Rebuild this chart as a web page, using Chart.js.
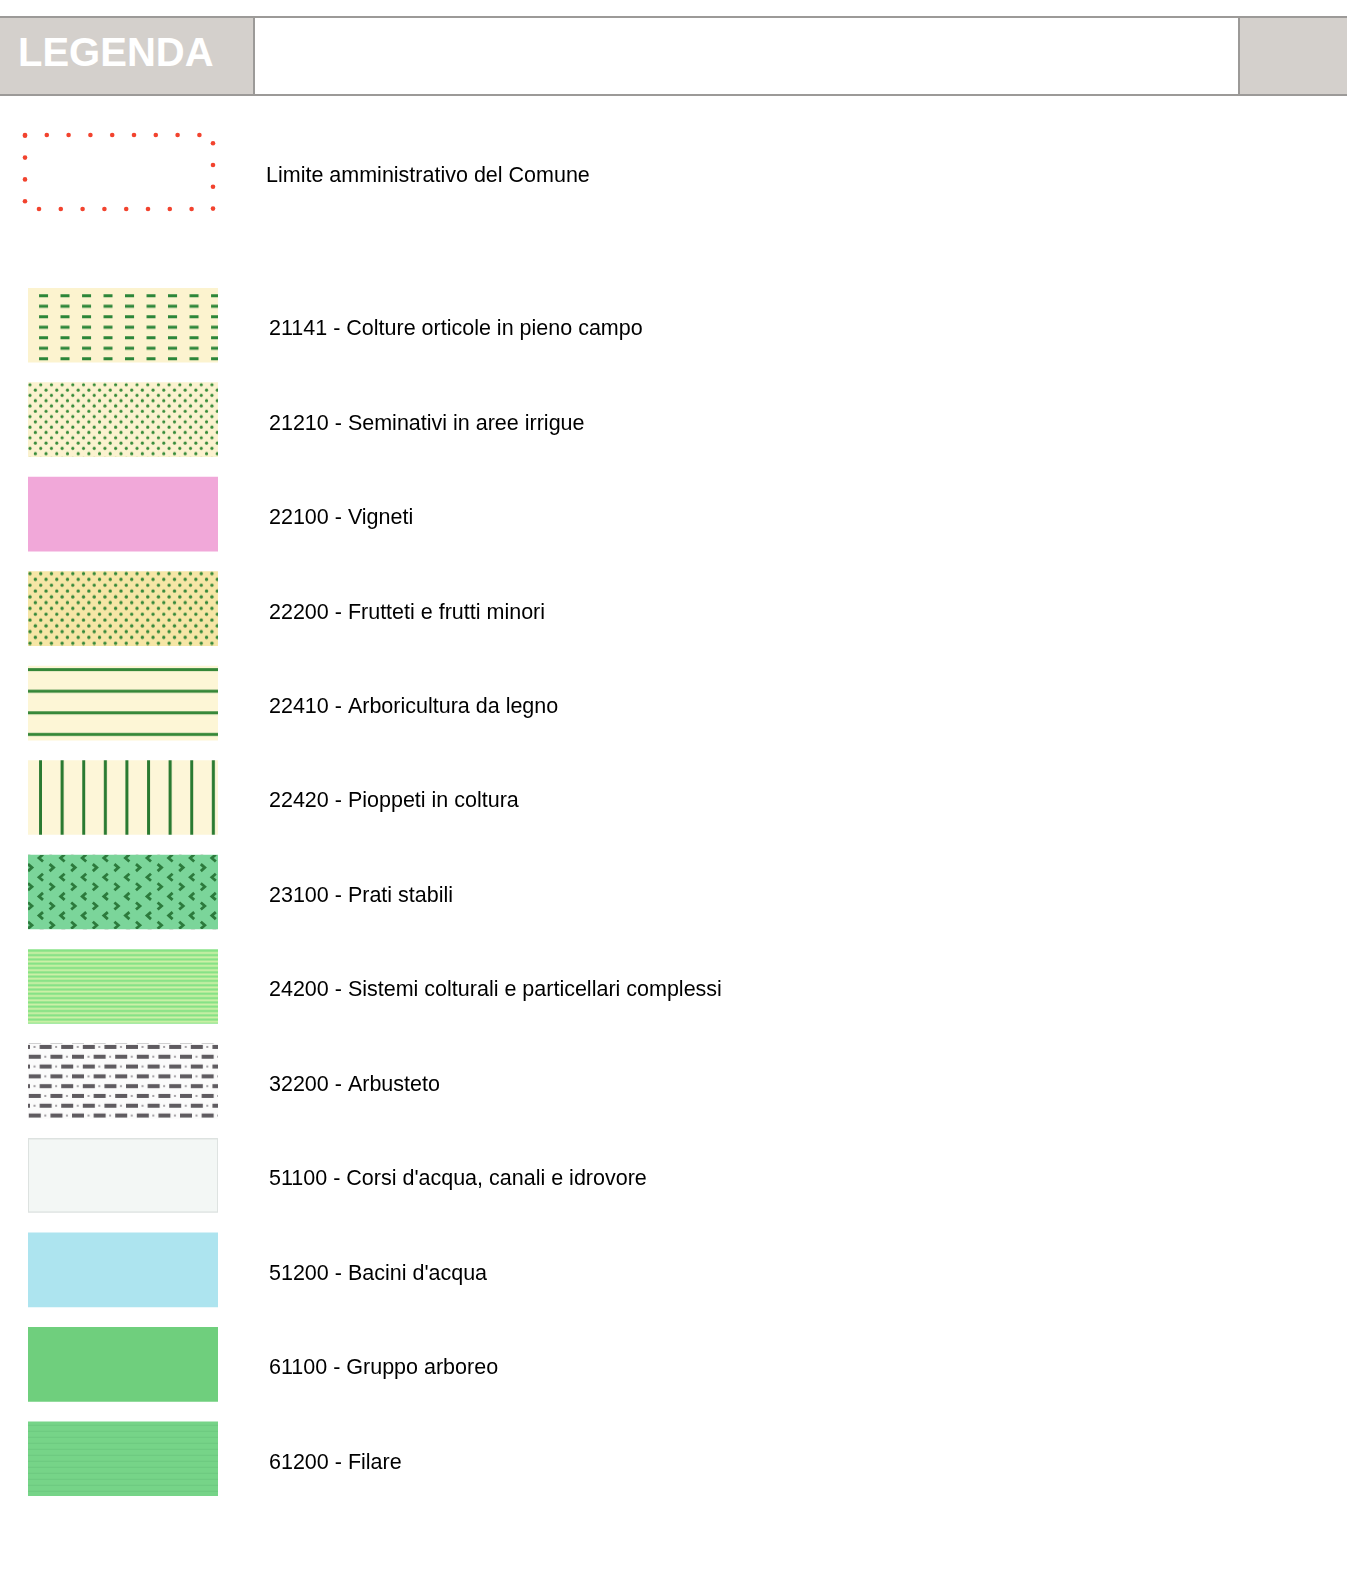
<!DOCTYPE html>
<html>
<head>
<meta charset="utf-8">
<script src="https://cdn.jsdelivr.net/npm/chart.js@4"></script>
<style>
  body { margin: 0; background: #fff; width: 1347px; height: 1571px; position: relative; overflow: hidden; }
  .head { position: absolute; left: 0; top: 16px; width: 1347px; height: 76px;
          border-top: 2px solid #9c9a98; border-bottom: 2px solid #9c9a98; background: #d4d0cc; }
  .head .mid { position: absolute; left: 253px; top: 0; width: 983px; height: 76px; background: #fff;
               border-left: 2px solid #9c9a98; border-right: 2px solid #9c9a98; }
  .head .title { position: absolute; left: 18px; top: 12px; font: bold 40px "Liberation Sans", Arial, sans-serif;
                 color: #fff; }
  canvas { position: absolute; }
  #limit { left: 0; top: 122px; }
  #legend { left: 0; top: 278px; }
</style>
</head>
<body>
<div class="head"><div class="title">LEGENDA</div><div class="mid"></div></div>
<canvas id="limit" width="913" height="100"></canvas>
<canvas id="legend" width="918" height="1228"></canvas>
<script>
// legend rows
const limitLabel = ["Limite amministrativo del Comune"];
const codes = ["21141", "21210", "22100", "22200", "22410", "22420", "23100",
               "24200", "32200", "51100", "51200", "61100", "61200"];
const names = ["Colture orticole in pieno campo", "Seminativi in aree irrigue", "Vigneti",
               "Frutteti e frutti minori", "Arboricultura da legno", "Pioppeti in coltura",
               "Prati stabili", "Sistemi colturali e particellari complessi", "Arbusteto",
               "Corsi d'acqua, canali e idrovore", "Bacini d'acqua", "Gruppo arboreo", "Filare"];
const cover = [1, 1, 1, 1, 1, 1, 1, 1, 1, 1, 1, 1, 1]; // every swatch fully filled
const limitCover = [1];

const labelFont = { family: "'Liberation Sans', Arial, sans-serif", size: 21.5 };
const W = 190, H = 74;

// swatch painters
function dots(g, bg, col, dx, dy, r) {
  g.fillStyle = bg; g.fillRect(0, 0, W, H);
  g.fillStyle = col;
  for (let j = 0; j * dy < H + dy; j++) {
    const off = (j % 2) ? dx / 2 : 0;
    for (let x = off + 2; x < W + dx; x += dx) {
      g.beginPath(); g.arc(x, 2 + j * dy, r, 0, Math.PI * 2); g.fill();
    }
  }
}
const painters = {
  "21141": g => {
    g.fillStyle = "#fcf3cf"; g.fillRect(0, 0, W, H);
    g.fillStyle = "#2c8639";
    for (let j = 0; j < 7; j++)
      for (let x = -10.5; x < W; x += 21.5) g.fillRect(x, 6 + j * 10.5, 9, 3);
  },
  "21210": g => dots(g, "#fbf2cf", "#358a38", 10.7, 5.3, 1.6),
  "22100": g => { g.fillStyle = "#f1a8d9"; g.fillRect(0, 0, W, H); },
  "22200": g => dots(g, "#f6e6a6", "#35883a", 10.7, 5.8, 1.7),
  "22410": g => {
    g.fillStyle = "#fdf6d6"; g.fillRect(0, 0, W, H);
    g.fillStyle = "#358738";
    for (let j = 0; j < 4; j++) g.fillRect(0, 2 + j * 21.6, W, 3);
  },
  "22420": g => {
    g.fillStyle = "#fdf6d8"; g.fillRect(0, 0, W, H);
    g.fillStyle = "#2a7a31";
    for (let k = 0; k < 9; k++) g.fillRect(11 + k * 21.6, 0, 3, H);
  },
  "23100": g => {
    g.fillStyle = "#7bd59a"; g.fillRect(0, 0, W, H);
    g.strokeStyle = "#2c7a3c"; g.lineWidth = 2.8;
    for (let j = 0; j < 8; j++) {
      const y = 3 + j * 9.6, left = j % 2 === 0;
      for (let x = left ? 11 : 0; x < W + 10; x += 21.6) {
        g.beginPath();
        if (left) { g.moveTo(x + 4, y - 3.5); g.lineTo(x, y); g.lineTo(x + 4, y + 3.5); }
        else { g.moveTo(x, y - 3.5); g.lineTo(x + 4, y); g.lineTo(x, y + 3.5); }
        g.stroke();
      }
    }
  },
  "24200": g => {
    g.fillStyle = "#d9f3ad"; g.fillRect(0, 0, W, H);
    g.fillStyle = "#86e286";
    for (let y = 0; y < H; y += 4.3) g.fillRect(0, y, W, 2.6);
  },
  "32200": g => {
    g.fillStyle = "#fbfbfb"; g.fillRect(0, 0, W, H);
    for (let j = 0; j < 8; j++) {
      const y = 3 + j * 9.8, off = (j % 2) ? 10.8 : 0;
      for (let x = off - 10; x < W; x += 21.6) {
        g.fillStyle = "#5f5b60"; g.fillRect(x, y - 2, 12, 4);
        g.fillStyle = "#a3a0a4"; g.fillRect(x + 15.5, y - 1, 2, 2);
      }
    }
  },
  "51100": g => {
    g.fillStyle = "#f3f7f5"; g.fillRect(0, 0, W, H);
    g.strokeStyle = "#dde2e0"; g.lineWidth = 1; g.strokeRect(0.5, 0.5, W - 1, H - 1);
  },
  "51200": g => { g.fillStyle = "#ade4ef"; g.fillRect(0, 0, W, H); },
  "61100": g => { g.fillStyle = "#6fcf7d"; g.fillRect(0, 0, W, H); },
  "61200": g => {
    g.fillStyle = "#76d488"; g.fillRect(0, 0, W, H);
    g.fillStyle = "rgba(100,190,120,0.5)";
    for (let y = 3; y < H; y += 6) g.fillRect(0, y, W, 1);
  }
};

const legendCanvas = document.getElementById("legend");
const lctx = legendCanvas.getContext("2d");

const fills = codes.map(code => {
  const c = document.createElement("canvas");
  c.width = W; c.height = H;
  painters[code](c.getContext("2d"));
  return lctx.createPattern(c, "repeat");
});

// anchor each pattern on its bar, using the bar element geometry from the scales
const anchorPatterns = {
  id: "anchorPatterns",
  beforeDatasetsDraw(chart) {
    chart.getDatasetMeta(0).data.forEach((bar, i) => {
      const left = Math.min(bar.base, bar.x);
      const top = bar.y - bar.height / 2;
      fills[i].setTransform(new DOMMatrix([1, 0, 0, 1, left, top]));
    });
  }
};

// dotted red frame for the administrative limit
const dottedFrame = {
  id: "dottedFrame",
  afterDatasetsDraw(chart) {
    const g = chart.ctx;
    const bar = chart.getDatasetMeta(0).data[0];
    const x0 = Math.min(bar.base, bar.x), x1 = Math.max(bar.base, bar.x);
    const y0 = bar.y - bar.height / 2, y1 = bar.y + bar.height / 2;
    const pts = [[x0, y0], [x1, y0], [x1, y1], [x0, y1], [x0, y0]];
    const step = 21.8;
    g.save();
    g.fillStyle = "#f2432e";
    let carry = 0;
    for (let s = 0; s < 4; s++) {
      const [ax, ay] = pts[s], [bx, by] = pts[s + 1];
      const len = Math.hypot(bx - ax, by - ay);
      let d = carry;
      for (; d < len; d += step) {
        const t = d / len;
        g.beginPath(); g.arc(ax + (bx - ax) * t, ay + (by - ay) * t, 2.3, 0, Math.PI * 2); g.fill();
      }
      carry = d - len;
    }
    g.restore();
  }
};

function legendOptions(leftPad, gap) {
  return {
    indexAxis: "y",
    responsive: false,
    animation: false,
    layout: { padding: { left: leftPad, top: 0, bottom: 0, right: 0 } },
    plugins: { legend: { display: false }, tooltip: { enabled: false } },
    scales: {
      x: { display: false, min: 0, max: 1 },
      y: {
        position: "right",
        grid: { display: false, drawTicks: false },
        border: { display: false },
        ticks: { padding: gap, labelOffset: 4, color: "#000", font: labelFont },
        afterFit: s => { s.width = 700; s.paddingTop = 0; s.paddingBottom = 0; }
      }
    }
  };
}

new Chart(document.getElementById("limit"), {
  type: "bar",
  data: {
    labels: limitLabel,
    datasets: [{ data: limitCover, backgroundColor: "rgba(0,0,0,0)", barThickness: 74, borderWidth: 0 }]
  },
  options: legendOptions(25, 53),
  plugins: [dottedFrame]
});

new Chart(legendCanvas, {
  type: "bar",
  data: {
    labels: codes.map((c, i) => c + " - " + names[i]),
    datasets: [{ data: cover, backgroundColor: fills, barThickness: 74, borderWidth: 0 }]
  },
  options: legendOptions(28, 51),
  plugins: [anchorPatterns]
});
</script>
</body>
</html>
